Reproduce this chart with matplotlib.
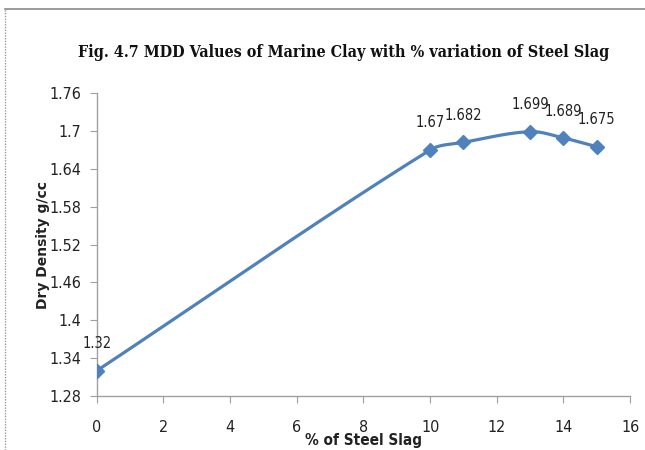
import numpy as np
import matplotlib
matplotlib.use("Agg")
import matplotlib.pyplot as plt
from matplotlib.lines import Line2D

steel_slag = [0, 10, 11, 13, 14, 15]
dry_density = [1.32, 1.67, 1.682, 1.699, 1.689, 1.675]
value_labels = ["1.32", "1.67", "1.682", "1.699", "1.689", "1.675"]
y_ticks = [1.28, 1.34, 1.4, 1.46, 1.52, 1.58, 1.64, 1.7, 1.76]
y_tick_labels = ["1.28", "1.34", "1.4", "1.46", "1.52", "1.58", "1.64", "1.7", "1.76"]
x_ticks = [0, 2, 4, 6, 8, 10, 12, 14, 16]

color = "#4F81BD"
fig = plt.figure(figsize=(6.45, 4.5), dpi=100)
ax = fig.add_axes([0.150, 0.12, 0.827, 0.673])
ax.set_xlim(0, 16)
ax.set_ylim(1.28, 1.76)

# smoothed line: bezier through the points, computed in display space
P = ax.transData.transform(np.column_stack([steel_slag, dry_density]).astype(float))
segs = []
n = len(P)
for i in range(n - 1):
    p0 = P[i - 1] if i > 0 else P[i]
    p1 = P[i]
    p2 = P[i + 1]
    p3 = P[i + 2] if i + 2 < n else P[i + 1]
    L = np.linalg.norm(p2 - p1)
    t1 = (p2 - p0) / np.linalg.norm(p2 - p0)
    t2 = (p3 - p1) / np.linalg.norm(p3 - p1)
    b1 = p1 + t1 * L / 3.0
    b2 = p2 - t2 * L / 3.0
    t = np.linspace(0, 1, 60)[:, None]
    segs.append((1 - t)**3 * p1 + 3 * (1 - t)**2 * t * b1 + 3 * (1 - t) * t**2 * b2 + t**3 * p2)
curve = ax.transData.inverted().transform(np.vstack(segs))
ax.plot(curve[:, 0], curve[:, 1], color=color, lw=2.3, solid_capstyle="round", zorder=2)
ax.plot(steel_slag, dry_density, linestyle="none", marker="D", ms=7, color=color, zorder=3)

narrow = dict(family="DejaVu Sans", stretch="condensed")
for x, y, s in zip(steel_slag, dry_density, value_labels):
    ax.annotate(s, (x, y), xytext=(0, 14), textcoords="offset points", ha="center", va="bottom",
                fontsize=10.5, color="#222222", **narrow)

ax.set_xticks(x_ticks)
ax.set_yticks(y_ticks)
ax.set_yticklabels(y_tick_labels)
for side in ["top", "right"]:
    ax.spines[side].set_visible(False)
for side in ["left", "bottom"]:
    ax.spines[side].set_color("#A0A0A0")
    ax.spines[side].set_linewidth(1.0)
ax.tick_params(axis="both", direction="out", color="#A0A0A0", length=5, labelsize=11.5, labelcolor="#222222")
for lbl in ax.get_xticklabels() + ax.get_yticklabels():
    lbl.set_family("DejaVu Sans")
    lbl.set_stretch("condensed")
ax.tick_params(axis="x", pad=12)
ax.tick_params(axis="y", pad=6)

ax.set_xlabel("% of Steel Slag", fontsize=11, fontweight="bold", color="#222222", labelpad=-1, **narrow)
ax.set_ylabel("Dry Density g/cc", family="DejaVu Sans", fontsize=10, fontweight="bold", color="#222222", labelpad=0)

fig.text(0.532, 0.883, "Fig. 4.7 MDD Values of Marine Clay with % variation of Steel Slag",
         ha="center", va="center", family="DejaVu Serif", stretch="condensed", fontweight="bold", fontsize=11.5, color="#111111")

# outer border (left and top)
fig.add_artist(Line2D([0.008, 0.008], [0.0, 0.98], transform=fig.transFigure, color="#9A9A9A", lw=1.0, linestyle=(0, (1, 1))))
fig.add_artist(Line2D([0.008, 1.0], [0.98, 0.98], transform=fig.transFigure, color="#8A8A8A", lw=1.2))

fig.savefig("out.png", dpi=100)
